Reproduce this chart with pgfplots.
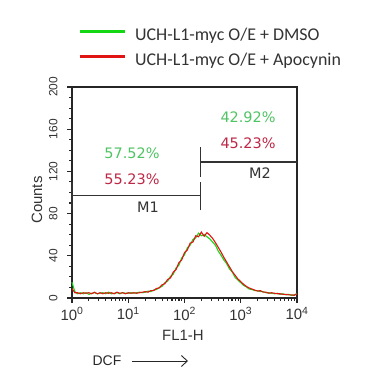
\documentclass[border=0pt]{standalone}
\usepackage{pgfplots}
\pgfplotsset{compat=1.18}
\usepackage{fontspec}
\setmainfont{Carlito}
\newfontfamily\arial{Liberation Sans}
\newfontfamily\dejavu{DejaVu Sans}
\usetikzlibrary{arrows.meta}
\definecolor{cgreen}{RGB}{20,215,20}
\definecolor{cred}{RGB}{225,20,20}
\definecolor{tgreen}{RGB}{80,195,100}
\definecolor{tred}{RGB}{190,40,70}
\definecolor{gate}{RGB}{50,50,50}

\pgfplotstableread{
e g r
0.00 15 9
0.05 6 5
0.10 4 5
0.15 5 4
0.20 4 5
0.25 5 4.5
0.30 3.5 5
0.35 4.5 4
0.40 5 5.5
0.45 4 4
0.50 4.5 5
0.55 5 4
0.60 4 5
0.65 5.5 4.5
0.70 4 5
0.75 4.5 4
0.80 5 5.5
0.85 4 4.5
0.90 5 5
0.95 4.5 4
1.00 4.5 5
1.05 5 4.5
1.10 4.5 5
1.15 5 4.5
1.20 5.5 5
1.25 5 5.5
1.30 5.5 6
1.35 6.5 5.5
1.40 6 7
1.45 7.5 7
1.50 8 9
1.55 10 9.5
1.60 11 12.5
1.65 14.5 13.5
1.70 16 17.5
1.75 20.5 19
1.80 22.5 24.5
1.85 28.5 27
1.90 31 33.5
1.95 38 36
2.00 41 43
2.05 47.5 45.5
2.10 50 52
2.15 55.5 53
2.20 57 59
2.25 61.5 58
2.30 59 62.5
2.35 60 58.5
2.40 58 62
2.45 56 59.5
2.50 53 56.5
2.55 50 52.5
2.60 44.5 48
2.65 40.5 43.5
2.70 36 38.5
2.75 32.5 34
2.80 27.5 29.5
2.85 24.5 25
2.90 19.5 21.5
2.95 17 18
3.00 14.5 15.5
3.05 12 13
3.10 10.5 11
3.15 8.5 9.5
3.20 8 8.5
3.25 7 7.5
3.30 7 6.5
3.35 6 7
3.40 6 5.5
3.45 5 5.5
3.50 5 4.5
3.55 4.5 5
3.60 4 4.5
3.65 4.5 4
3.70 3.5 4
3.75 4 3.5
3.80 3 3.5
3.85 3.5 3
3.90 2.5 3
3.95 3 2.5
4.00 4 4
}\hist

\begin{document}
\begin{tikzpicture}[x=1bp,y=1bp]
\useasboundingbox (0,0) rectangle (387,379);
\begin{axis}[
  at={(72bp,81bp)}, anchor=south west,
  scale only axis, width=225bp, height=211bp,
  xmin=0, xmax=4, ymin=0, ymax=200,
  /pgf/number format/assume math mode=true,
  axis line style={draw=black!85, line width=1.3bp},
  tick pos=left, tick align=outside,
  xtick={0,1,2,3,4},
  xticklabels={10\textsuperscript{0},10\textsuperscript{1},10\textsuperscript{2},10\textsuperscript{3},10\textsuperscript{4}},
  minor xtick={0.301,0.477,0.602,0.699,0.778,0.845,0.903,0.954,
    1.301,1.477,1.602,1.699,1.778,1.845,1.903,1.954,
    2.301,2.477,2.602,2.699,2.778,2.845,2.903,2.954,
    3.301,3.477,3.602,3.699,3.778,3.845,3.903,3.954},
  ytick={0,40,80,120,160,200},
  minor y tick num=3,
  major tick length=5bp, minor tick length=3bp,
  every tick/.style={black!85, line width=1.1bp},
  tick label style={font=\arial\fontsize{15}{15}\selectfont, text=black!80},
  xticklabel style={yshift=-1bp},
  yticklabel style={rotate=90, anchor=south, yshift=6bp, font=\arial\fontsize{12}{12}\selectfont},
  xlabel={FL1-H}, ylabel={Counts},
  xlabel style={font=\arial\fontsize{15}{15}\selectfont, text=black!80, at={(axis description cs:0.493,-0.175)}, anchor=center},
  ylabel style={font=\arial\fontsize{15}{15}\selectfont, text=black!80, at={(axis description cs:-0.156,0.464)}, anchor=center},
  legend style={draw=none, fill=none, inner sep=0pt, at={(axis description cs:0.0267,1.179)}, anchor=west,
    font=\fontsize{18}{18}\selectfont, text=black!80, row sep=9bp,
    nodes={inner sep=0pt, text height=12bp, text depth=4bp}},
  legend cell align=left,
  legend image code/.code={\draw[#1, line width=2.7bp] (0bp,5bp) -- (45bp,5bp); \path (55bp,0bp);},
  clip=false,
]
\addplot[cgreen, line width=1.1bp] table[x=e, y=g] {\hist};
\addlegendentry{UCH-L1-myc O/E + DMSO}
\addplot[cred, line width=1.1bp] table[x=e, y=r] {\hist};
\addlegendentry{UCH-L1-myc O/E + Apocynin}
% gates
\addplot[gate, line width=1.3bp, forget plot] coordinates {(0,97) (2.29,97)};
\addplot[gate, line width=1.3bp, forget plot] coordinates {(0,83) (0,110)};
\addplot[gate, line width=1.3bp, forget plot] coordinates {(2.29,83) (2.29,110)};
\addplot[gate, line width=1.3bp, forget plot] coordinates {(2.29,129) (4,129)};
\addplot[gate, line width=1.3bp, forget plot] coordinates {(2.29,115) (2.29,143)};
\node[font=\dejavu\fontsize{14.5}{14.5}\selectfont, text=tgreen] at (axis cs:1.067,137.4) {57.52\%};
\node[font=\dejavu\fontsize{14.5}{14.5}\selectfont, text=tred] at (axis cs:1.067,112.8) {55.23\%};
\node[font=\dejavu\fontsize{14.5}{14.5}\selectfont, text=black!80] at (axis cs:1.35,86) {M1};
\node[font=\dejavu\fontsize{14.5}{14.5}\selectfont, text=tgreen] at (axis cs:3.13,171.6) {42.92\%};
\node[font=\dejavu\fontsize{14.5}{14.5}\selectfont, text=tred] at (axis cs:3.13,147) {45.23\%};
\node[font=\dejavu\fontsize{14.5}{14.5}\selectfont, text=black!80] at (axis cs:3.34,118.5) {M2};
\end{axis}
\node[font=\arial\fontsize{14}{14}\selectfont, text=black!85] at (107,18) {DCF};
\draw[black!85, line width=0.9bp, -{Straight Barb[length=6bp, width=11bp]}] (132,18) -- (188,18);
\end{tikzpicture}
\end{document}
